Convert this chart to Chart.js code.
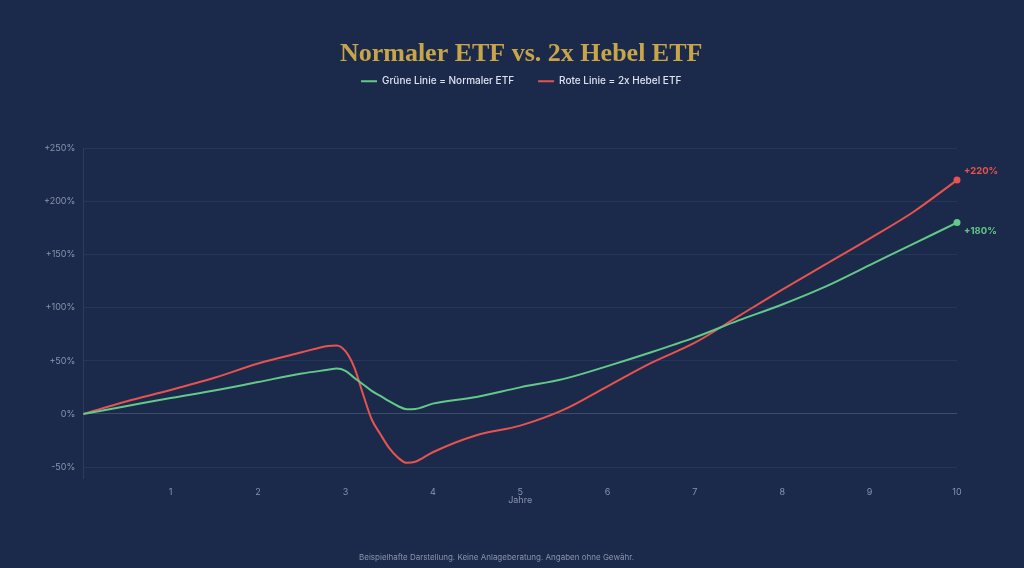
<!DOCTYPE html>
<html>
<head>
<meta charset="utf-8">
<script src="https://cdn.jsdelivr.net/npm/chart.js@4.4.1/dist/chart.umd.min.js"></script>
<style>
html,body{margin:0;padding:0;background:#1b2a4a;}
#wrap{width:1024px;height:568px;position:relative;}
</style>
</head>
<body>
<div id="wrap"><canvas id="c" width="1024" height="568"></canvas></div>
<script>
const years = [0,0.5,1,1.5,2,2.5,2.8,2.9,3,3.1,3.2,3.3,3.4,3.5,3.6,3.7,3.8,4,4.5,5,5.5,6,6.5,7,7.5,8,8.5,9,9.5,10];
const normalEtf = [0,7.5,15,22,30,38,41.5,42.7,40.5,34,28,21.7,17,12,7.5,4.4,4.7,9.7,16,25,33,45,58,72,88,103,120,140,160,180];
const hebelEtf = [0,12,22.5,34,47.5,58,64,64.5,59,44,19,-5,-19,-32,-41,-46,-45,-36,-20,-11,4,26,48,67,92,117,141,165,190,220];
const seriesNames = ['Grüne Linie = Normaler ETF','Rote Linie = 2x Hebel ETF'];
const endLabels = ['+180%','+220%'];
const yTicks = [-50,0,50,100,150,200,250];
const xTicks = [1,2,3,4,5,6,7,8,9,10];

const GREEN = '#63c98a';
const RED = '#e8524f';
const TXT = '#8a94ae';
const FONT = 'Inter, "DejaVu Sans", sans-serif';

const toPts = vals => years.map((x,i)=>({x:x,y:vals[i]}));
const lastIdx = years.length-1;
const radiusFn = ctx => ctx.dataIndex === lastIdx ? 3.5 : 0;

const endLabelPlugin = {
  id:'endLabels',
  afterDatasetsDraw(chart){
    const ctx = chart.ctx;
    ctx.save();
    ctx.font = 'bold 9.5px ' + FONT;
    ctx.textBaseline = 'middle';
    ctx.textAlign = 'left';
    chart.data.datasets.forEach((ds,i)=>{
      const meta = chart.getDatasetMeta(i);
      const p = meta.data[meta.data.length-1];
      ctx.fillStyle = ds.borderColor;
      const dy = i === 0 ? 9 : -9;
      ctx.fillText(endLabels[i], p.x + 7, p.y + dy);
    });
    ctx.restore();
  }
};

// extra gap below legend, and centre title + legend over the plot area
const headerPlugin = {
  id:'headerPlugin',
  beforeInit(chart){
    const lg = chart.legend;
    const origFit = lg.fit;
    lg.fit = function(){
      origFit.bind(lg)();
      this.height += 52;
    };
    const shift = (box) => {
      const d = box.draw;
      box.draw = function(){
        const c = chart.chartArea;
        const dx = (c.left + c.right)/2 - (this.left + this.right)/2;
        chart.ctx.save();
        chart.ctx.translate(dx + 1, 0);
        d.apply(this, arguments);
        chart.ctx.restore();
      };
    };
    shift(lg);
    if (chart.titleBlock) shift(chart.titleBlock);
  }
};

new Chart(document.getElementById('c'), {
  type:'line',
  data:{
    datasets:[
      {label:seriesNames[0], data:toPts(normalEtf), borderColor:GREEN, backgroundColor:GREEN, borderWidth:2, clip:false,
       pointRadius:radiusFn, pointHoverRadius:radiusFn, pointBackgroundColor:GREEN, pointBorderWidth:0, cubicInterpolationMode:'monotone'},
      {label:seriesNames[1], data:toPts(hebelEtf), borderColor:RED, backgroundColor:RED, borderWidth:2, clip:false,
       pointRadius:radiusFn, pointHoverRadius:radiusFn, pointBackgroundColor:RED, pointBorderWidth:0, cubicInterpolationMode:'monotone'}
    ]
  },
  options:{
    responsive:false,
    animation:false,
    layout:{padding:{left:36,right:67,top:30,bottom:6}},
    plugins:{
      title:{display:true, text:'Normaler ETF vs. 2x Hebel ETF', color:'#c9a54a',
        font:{family:'"Liberation Serif", "DejaVu Serif", serif', size:26, weight:'bold'}, padding:{top:9,bottom:-18}},
      subtitle:{display:true, position:'bottom', text:'Beispielhafte Darstellung. Keine Anlageberatung. Angaben ohne Gewähr.',
        color:TXT, font:{family:FONT, size:8}, padding:{top:47,bottom:0}},
      legend:{display:true, position:'top',
        labels:{color:'#dfe3ee', usePointStyle:true, pointStyle:'line', pointStyleWidth:16, boxHeight:8, padding:24,
          font:{family:FONT, size:10, weight:'500'},
          generateLabels(chart){
            const items = Chart.defaults.plugins.legend.labels.generateLabels(chart);
            items.forEach((it)=>{
              const ds = chart.data.datasets[it.datasetIndex];
              it.lineWidth = 2;
              it.strokeStyle = ds.borderColor;
              it.fillStyle = ds.borderColor;
              it.pointStyle = 'line';
            });
            return items;
          }}},
      tooltip:{enabled:false}
    },
    scales:{
      x:{type:'linear', min:0, max:10,
        afterBuildTicks(axis){ axis.ticks = xTicks.map(v=>({value:v})); },
        grid:{display:false, drawTicks:false}, border:{display:false},
        ticks:{color:TXT, font:{family:FONT, size:9}, padding:8},
        title:{display:true, text:'Jahre', color:TXT, font:{family:FONT, size:9}, padding:{top:-11,bottom:0}}
      },
      y:{type:'linear', min:-61, max:250,
        afterBuildTicks(axis){ axis.ticks = yTicks.map(v=>({value:v})); },
        grid:{color:ctx => ctx.tick && ctx.tick.value === 0 ? '#3e4d6e' : '#26365a', lineWidth:1, drawTicks:false},
        border:{display:true, color:'#2c3c60'},
        ticks:{color:TXT, font:{family:FONT, size:9}, padding:8,
          callback:v => (v>0?'+':'') + v + '%'}
      }
    }
  },
  plugins:[endLabelPlugin, headerPlugin]
});
</script>
</body>
</html>
